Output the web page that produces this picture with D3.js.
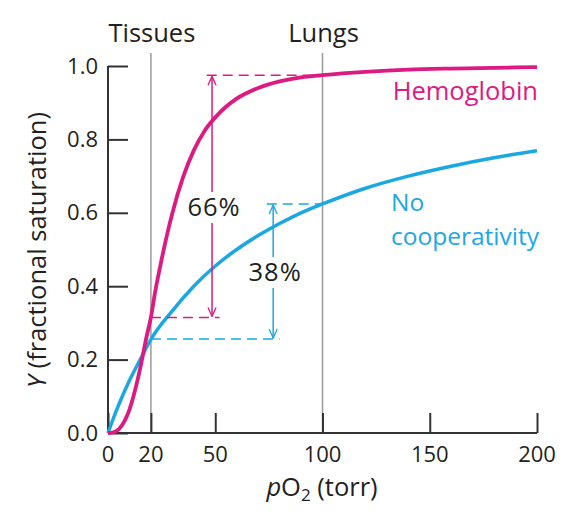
<!DOCTYPE html>
<html>
<head>
<meta charset="utf-8">
<script src="https://cdn.jsdelivr.net/npm/d3@7"></script>
<style>
  html, body { margin: 0; padding: 0; background: #fff; }
  svg { display: block; font-family: "Open Sans", "DejaVu Sans", sans-serif; }
</style>
</head>
<body>
<div id="chart"></div>
<script>
// ---- data ----
const hbP = [0, 2, 5, 8, 10, 12, 15, 18, 20, 22, 25, 28, 30, 35, 40, 45, 50, 55, 60, 70, 80, 90, 100, 120, 140, 160, 180, 200];
const hbY = [0, 0.001, 0.01, 0.036, 0.064, 0.103, 0.176, 0.263, 0.315, 0.385, 0.473, 0.552, 0.599, 0.697, 0.770, 0.823, 0.860, 0.889, 0.911, 0.940, 0.958, 0.969, 0.975, 0.984, 0.990, 0.993, 0.995, 0.997];
const ncP = [0, 2, 5, 10, 15, 20, 30, 40, 50, 60, 70, 80, 90, 100, 120, 140, 160, 180, 200];
const ncY = [0, 0.032, 0.077, 0.143, 0.200, 0.255, 0.333, 0.400, 0.455, 0.500, 0.538, 0.571, 0.600, 0.624, 0.667, 0.700, 0.727, 0.750, 0.769];
const xTicks = [0, 20, 50, 100, 150, 200];
const yTicks = [0, 0.2, 0.4, 0.6, 0.8, 1.0];
const markers = [{label: "Tissues", p: 20}, {label: "Lungs", p: 100}];
// annotation values
const hbDelta = {pTop0: 46, pArrow: 48.5, pBot1: 52, yHigh: 0.975, yLow: 0.315, label: "66%"};
const ncDelta = {pTop0: 74, pArrow: 77, pBot1: 80, yHigh: 0.624, yLow: 0.256, label: "38%"};

const W = 580, H = 517;
const MAG = "#dc1a82", BLUE = "#1ba8e2", TXT = "#231f20", AX = "#333";
const LBL = 25.5;

const x = d3.scaleLinear().domain([0, 200]).range([108, 537]);
const y = d3.scaleLinear().domain([0, 1]).range([433, 66]);

const svg = d3.select("#chart").append("svg").attr("width", W).attr("height", H);

// arrow markers (path points along +x)
const defs = svg.append("defs");
function mk(id, color) {
  defs.append("marker").attr("id", id)
    .attr("viewBox", "-11 -6 12 12").attr("refX", 0).attr("refY", 0)
    .attr("markerWidth", 12).attr("markerHeight", 12)
    .attr("markerUnits", "userSpaceOnUse")
    .attr("orient", "auto-start-reverse")
    .append("path").attr("d", "M-9,-4 L0,0 L-9,4")
    .attr("fill", "none").attr("stroke", color).attr("stroke-width", 1.3);
}
mk("arrM", MAG); mk("arrB", BLUE);

// vertical reference lines + labels
markers.forEach(m => {
  svg.append("line").attr("x1", x(m.p)).attr("x2", x(m.p))
    .attr("y1", 53).attr("y2", y(0)).attr("stroke", "#9a9a9a").attr("stroke-width", 1.5);
  svg.append("text").attr("x", x(m.p) + 1).attr("y", 42).attr("text-anchor", "middle")
    .attr("font-size", LBL).attr("fill", TXT).text(m.label);
});

// axes
const yAxis = d3.axisRight(y).tickValues(yTicks).tickSize(20).tickFormat("");
const gy = svg.append("g").attr("transform", `translate(${x(0)},0)`).call(yAxis);
const xAxis = d3.axisTop(x).tickValues(xTicks).tickSize(20).tickFormat("");
const gx = svg.append("g").attr("transform", `translate(0,${y(0)})`).call(xAxis);
[gx, gy].forEach(g => {
  g.select(".domain").attr("stroke", AX).attr("stroke-width", 2);
  g.selectAll(".tick line").attr("stroke", AX).attr("stroke-width", 2);
});
gy.select(".domain").attr("d", `M0,${y(1)}V${y(0)}`);
gx.select(".domain").attr("d", `M${x(0)},0H${x(200)}`);

svg.append("g").selectAll("text").data(yTicks).join("text")
  .attr("x", 98).attr("y", d => y(d) + 7.5).attr("text-anchor", "end")
  .attr("font-size", 22).attr("fill", TXT).text(d => d.toFixed(1));
svg.append("g").selectAll("text").data(xTicks).join("text")
  .attr("x", d => x(d)).attr("y", 462).attr("text-anchor", "middle")
  .attr("font-size", 22).attr("fill", TXT).text(d => d);

// axis titles
const xt = svg.append("text").attr("x", 322).attr("y", 496).attr("text-anchor", "middle")
  .attr("font-size", LBL).attr("fill", TXT);
xt.append("tspan").attr("font-style", "italic").text("p");
xt.append("tspan").text("O");
xt.append("tspan").attr("font-size", 17).attr("dy", 5).text("2");
xt.append("tspan").attr("dy", -5).text(" (torr)");

const yt = svg.append("text").attr("transform", "translate(46,250) rotate(-90)")
  .attr("text-anchor", "middle").attr("font-size", LBL).attr("fill", TXT);
yt.append("tspan").attr("font-style", "italic").text("Y");
yt.append("tspan").text(" (fractional saturation)");

// curves
const line = d3.line().x(d => x(d[0])).y(d => y(d[1])).curve(d3.curveMonotoneX);
svg.append("path").datum(ncP.map((p, i) => [p, ncY[i]]))
  .attr("d", line).attr("fill", "none").attr("stroke", BLUE).attr("stroke-width", 3.5);
svg.append("path").datum(hbP.map((p, i) => [p, hbY[i]]))
  .attr("d", line).attr("fill", "none").attr("stroke", MAG).attr("stroke-width", 3.8);

// annotations
function delta(a, color, mid, labelY) {
  const dash = "10,6";
  const g = svg.append("g");
  g.append("line").attr("x1", x(a.pTop0)).attr("x2", x(100))
    .attr("y1", y(a.yHigh)).attr("y2", y(a.yHigh))
    .attr("stroke", color).attr("stroke-width", 1.5).attr("stroke-dasharray", dash);
  g.append("line").attr("x1", x(20)).attr("x2", x(a.pBot1))
    .attr("y1", y(a.yLow)).attr("y2", y(a.yLow))
    .attr("stroke", color).attr("stroke-width", 1.5).attr("stroke-dasharray", dash);
  g.append("line").attr("x1", x(a.pArrow)).attr("x2", x(a.pArrow))
    .attr("y1", y(a.yHigh) + 1).attr("y2", y(a.yLow) - 1)
    .attr("stroke", color).attr("stroke-width", 1.5)
    .attr("marker-start", `url(#${mid})`).attr("marker-end", `url(#${mid})`);
  const bg = g.append("rect").attr("fill", "#fff");
  const t = g.append("text").attr("x", x(a.pArrow) + 2).attr("y", labelY)
    .attr("text-anchor", "middle").attr("font-size", 25.5).attr("letter-spacing", 1)
    .attr("fill", TXT).text(a.label);
  const bb = t.node().getBBox();
  bg.attr("x", bb.x - 2).attr("y", bb.y + 3).attr("width", bb.width + 4).attr("height", bb.height - 3);
}
delta(hbDelta, MAG, "arrM", 216);
delta(ncDelta, BLUE, "arrB", 281);

// series labels
svg.append("text").attr("x", 538).attr("y", 100).attr("text-anchor", "end")
  .attr("font-size", LBL).attr("fill", MAG).text("Hemoglobin");
svg.append("text").attr("x", 391).attr("y", 211)
  .attr("font-size", 24.5).attr("fill", BLUE).text("No");
svg.append("text").attr("x", 391).attr("y", 244.5)
  .attr("font-size", 24.5).attr("fill", BLUE).text("cooperativity");
</script>
</body>
</html>
